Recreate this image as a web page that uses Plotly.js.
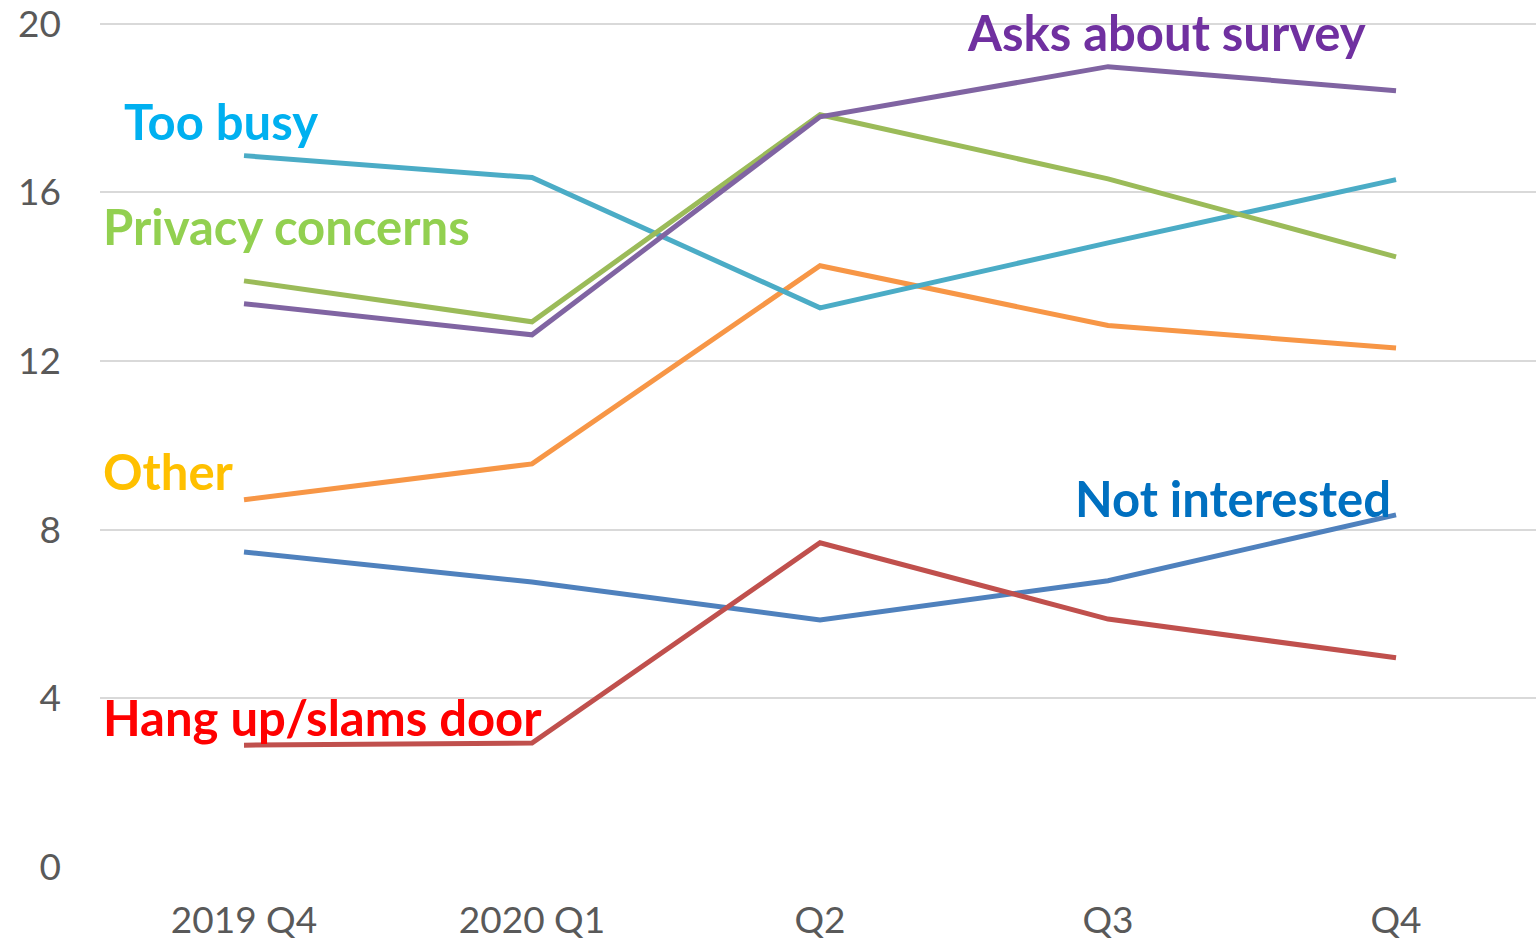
<!DOCTYPE html>
<html>
<head>
<meta charset="utf-8">
<script src="https://cdn.plot.ly/plotly-3.0.1.min.js"></script>
<style>html,body{margin:0;padding:0;background:#fff;}#chart{width:1536px;height:941px;}</style>
</head>
<body>
<div id="chart"></div>
<script>
const categories = ["2019 Q4", "2020 Q1", "Q2", "Q3", "Q4"];
const tooBusy = [16.87, 16.35, 13.26, 14.8, 16.3];
const privacyConcerns = [13.9, 12.93, 17.84, 16.32, 14.47];
const asksAboutSurvey = [13.36, 12.62, 17.79, 18.98, 18.41];
const other = [8.71, 9.56, 14.26, 12.84, 12.31];
const notInterested = [7.47, 6.76, 5.86, 6.79, 8.35];
const hangUp = [2.89, 2.94, 7.69, 5.88, 4.96];
const yTicks = [0, 4, 8, 12, 16, 20];

const seriesDefs = [
  {name: "Not interested", y: notInterested, color: "#4F81BD"},
  {name: "Hang up/slams door", y: hangUp, color: "#C0504D"},
  {name: "Other", y: other, color: "#F79646"},
  {name: "Too busy", y: tooBusy, color: "#4BACC6"},
  {name: "Privacy concerns", y: privacyConcerns, color: "#9BBB59"},
  {name: "Asks about survey", y: asksAboutSurvey, color: "#8064A2"}
];

const traces = seriesDefs.map(s => ({
  type: "scatter", mode: "lines", name: s.name,
  x: categories, y: s.y,
  line: {color: s.color, width: 5},
  hoverinfo: "x+y+name"
}));

const labelFont = {family: "Lato, 'Open Sans', sans-serif", size: 49, weight: 700};
function lab(text, x, y, color) {
  return {text: "<b>" + text + "</b>", x: x, y: y, xref: "x", yref: "y",
    xanchor: "left", yanchor: "middle", showarrow: false,
    font: Object.assign({}, labelFont, {color: color})};
}
const annotations = [
  lab("Too busy", -0.425, 17.7, "#00B0F0"),
  lab("Privacy concerns", -0.497, 15.2, "#92D050"),
  lab("Other", -0.497, 9.4, "#FFC000"),
  lab("Hang up/slams door", -0.497, 3.56, "#FF0000"),
  lab("Not interested", 2.88, 8.76, "#0070C0"),
  lab("Asks about survey", 2.505, 19.8, "#7030A0")
];

const layout = {
  width: 1536, height: 941,
  margin: {l: 100, r: 0, t: 11, b: 74, pad: 0},
  paper_bgcolor: "#ffffff", plot_bgcolor: "#ffffff",
  showlegend: false,
  font: {family: "Lato, 'Open Sans', sans-serif", color: "#595959"},
  xaxis: {type: "category", range: [-0.5, 4.486], showgrid: false, zeroline: false,
    showline: false, ticks: "", tickfont: {size: 37, color: "#595959"}, ticklabelstandoff: 28, fixedrange: true},
  yaxis: {range: [0, 20.3], tickvals: yTicks, ticktext: yTicks.map(String), showgrid: true,
    gridcolor: "#D9D9D9", gridwidth: 2, zeroline: false, showline: false, ticks: "",
    ticklabeloverflow: "allow",
    tickfont: {size: 37, color: "#595959"}, ticklabelstandoff: 38, fixedrange: true},
  annotations: annotations
};

Plotly.newPlot("chart", traces, layout, {displayModeBar: false, staticPlot: true});
</script>
</body>
</html>
